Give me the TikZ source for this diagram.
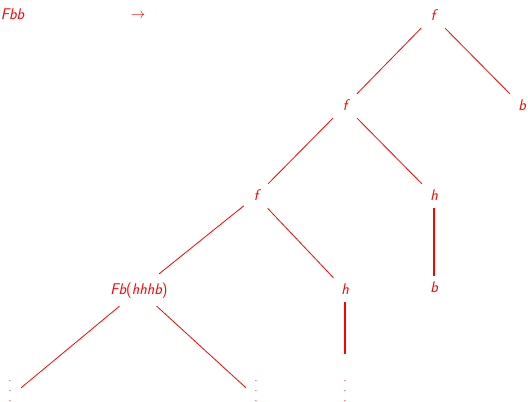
\documentclass[tikz,border=0pt]{standalone}
\usepackage{fontspec}
% vertical dots with a wider gap than \vdots
\newcommand\tallvdots{\vbox{\baselineskip10pt\lineskiplimit0pt\hbox{.}\hbox{.}\hbox{.}}}
\begin{document}
\begin{tikzpicture}[x=1pt,y=-1pt,
  every node/.style={text=red, font=\fontsize{15.5}{18}\selectfont\sffamily\itshape},
  term/.style={rectangle, inner sep=0pt, minimum width=24pt, minimum height=24pt,
               text height=11pt, text depth=3pt, anchor=center},
  wide/.style={term, minimum height=32pt, inner xsep=4pt},
  dotsnode/.style={rectangle, inner xsep=0pt, inner ysep=5pt, minimum width=22pt,
                   text height=8pt, text depth=0pt, anchor=base,
                   font=\fontsize{10}{12}\selectfont\upshape},
  edge/.style={draw=red, line width=0.8pt},
  heavy/.style={draw=red, line width=2.4pt}
]
\useasboundingbox (0,0) rectangle (528,402);

% heading
\node[anchor=base] (lhs) at (12.5,19) {Fbb};
\node[anchor=base, font=\fontsize{15.5}{18}\selectfont] (arr) at (138,18.5) {$\rightarrow$};

% tree
\node[term] (ftop) at (433,16) {f};
\node[term] (b1)   at (522,106) {b};
\node[term] (f2)   at (345,106) {f};
\node[term] (h1)   at (434,196) {h};
\node[term] (f3)   at (256,196) {f};
\node[wide] (Fb)   at (139,290) {Fb{\upshape(}hhhb{\upshape)}};
\node[term] (h2)   at (345,290) {h};
\node[term] (b2)   at (434,288) {b};

\node[dotsnode] (d1) at (10,401)  {\tallvdots};
\node[dotsnode] (d2) at (256,401) {\tallvdots};
\node[dotsnode] (d3) at (345,401) {\tallvdots};
\coordinate (h2end) at (345,354);

% connectors
\draw[edge] (ftop) -- (f2);
\draw[edge] (ftop) -- (b1);
\draw[edge] (f2) -- (f3);
\draw[edge] (f2) -- (h1);
\draw[edge] (f3) -- (Fb);
\draw[edge] (f3) -- (h2);
\draw[edge] (Fb) -- (d1);
\draw[edge] (Fb) -- (d2);
\draw[heavy] (h1) -- (b2);
\draw[heavy] (h2) -- (h2end);
\end{tikzpicture}
\end{document}
